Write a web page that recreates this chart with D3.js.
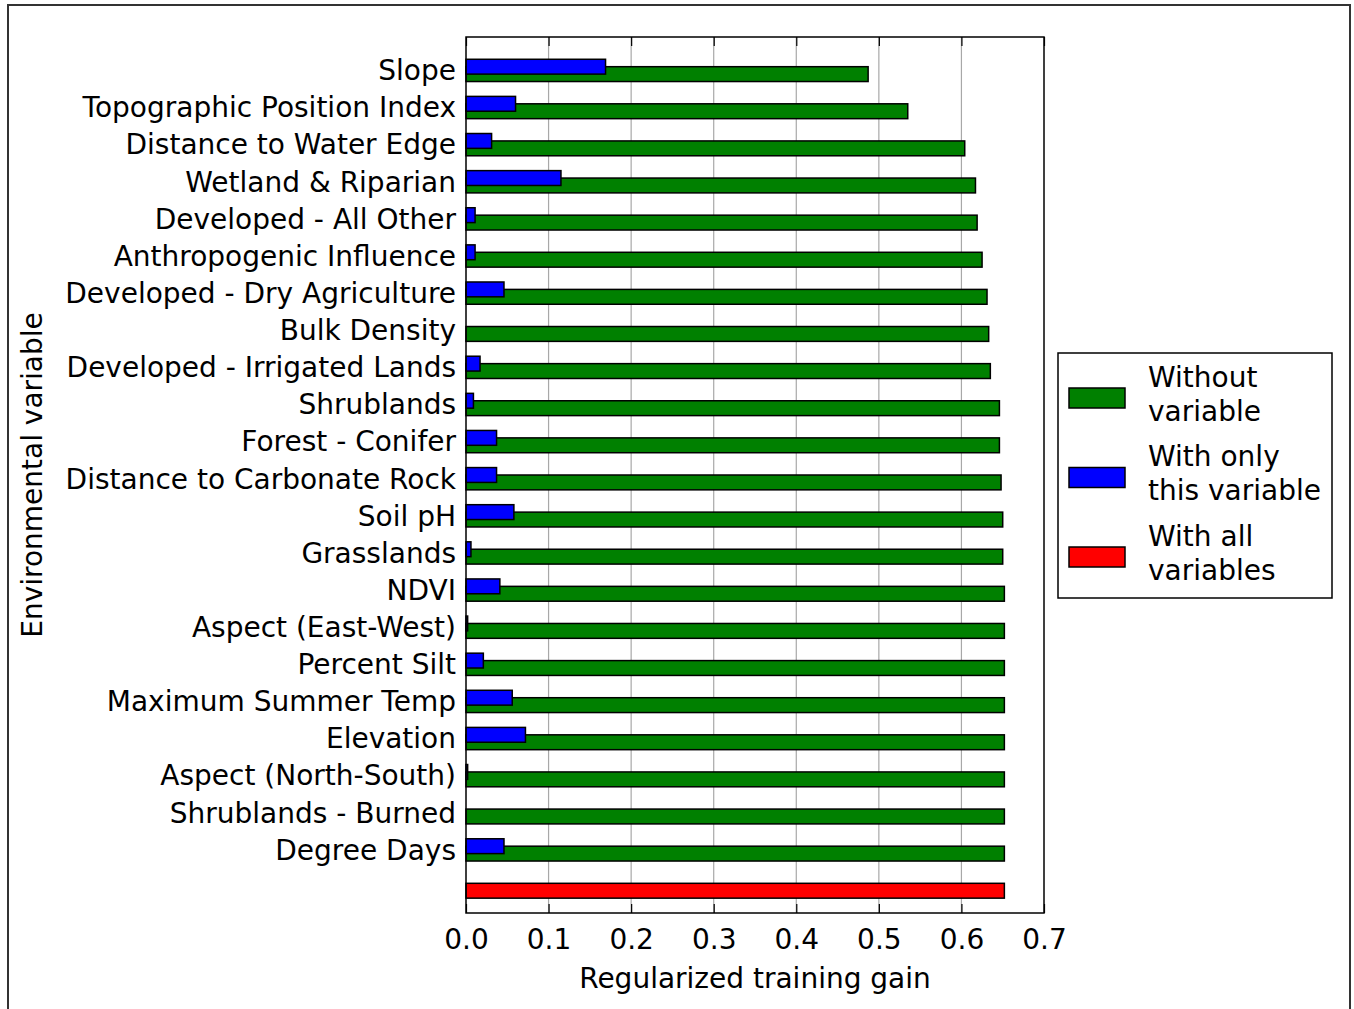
<!DOCTYPE html>
<html>
<head>
<meta charset="utf-8">
<script src="https://cdn.jsdelivr.net/npm/d3@7"></script>
<style>
  html, body { margin: 0; padding: 0; background: #fff; }
  svg { display: block; font-family: "DejaVu Sans", sans-serif; }
</style>
</head>
<body>
<div id="chart"></div>
<script>
const categories = [
  'Slope', 'Topographic Position Index', 'Distance to Water Edge', 'Wetland & Riparian',
  'Developed - All Other', 'Anthropogenic Influence', 'Developed - Dry Agriculture',
  'Bulk Density', 'Developed - Irrigated Lands', 'Shrublands', 'Forest - Conifer',
  'Distance to Carbonate Rock', 'Soil pH', 'Grasslands', 'NDVI', 'Aspect (East-West)',
  'Percent Silt', 'Maximum Summer Temp', 'Elevation', 'Aspect (North-South)',
  'Shrublands - Burned', 'Degree Days'
];

const withoutVar = [
  0.487, 0.535, 0.604, 0.617, 0.619, 0.625, 0.631, 0.633, 0.635, 0.646, 0.646,
  0.648, 0.650, 0.650, 0.652, 0.652, 0.652, 0.652, 0.652, 0.652, 0.652, 0.652
];

const onlyVar = [
  0.169, 0.060, 0.031, 0.115, 0.011, 0.011, 0.046, 0.0, 0.017, 0.009, 0.037,
  0.037, 0.058, 0.006, 0.041, 0.002, 0.021, 0.056, 0.072, 0.002, 0.0, 0.046
];

const allVars = 0.652;

const xTicks = [0.0, 0.1, 0.2, 0.3, 0.4, 0.5, 0.6, 0.7];

const legendItems = [
  { lines: ['Without', 'variable'], color: '#008000' },
  { lines: ['With only', 'this variable'], color: '#0000ff' },
  { lines: ['With all', 'variables'], color: '#ff0000' }
];

const W = 1354, H = 1009;
const plot = { left: 466, right: 1044, top: 37, bottom: 913 };
const BAR_H = 0.4;
const FS = 28;

const svg = d3.select('#chart').append('svg')
  .attr('width', W)
  .attr('height', H);

// outer frame
svg.append('rect')
  .attr('x', 8).attr('y', 5)
  .attr('width', 1342).attr('height', 1020)
  .attr('fill', 'none')
  .attr('stroke', '#333')
  .attr('stroke-width', 2);

const x = d3.scaleLinear().domain([0, 0.7]).range([plot.left, plot.right]);
const y = d3.scaleLinear().domain([-1.0, 22.6]).range([plot.top, plot.bottom]);

// grid
svg.append('g')
  .selectAll('line')
  .data(xTicks.slice(1, -1))
  .join('line')
  .attr('x1', d => x(d)).attr('x2', d => x(d))
  .attr('y1', plot.top).attr('y2', plot.bottom)
  .attr('stroke', '#a8a8a8')
  .attr('stroke-width', 1.2);

const rows = categories.map((c, i) => ({ name: c, i, without: withoutVar[i], only: onlyVar[i] }));

const bars = svg.append('g');

function barRect(sel, center, value, color) {
  sel.attr('x', x(0))
    .attr('y', y(center - BAR_H / 2))
    .attr('width', x(value) - x(0))
    .attr('height', y(BAR_H) - y(0))
    .attr('fill', color)
    .attr('stroke', '#000')
    .attr('stroke-width', 1.5);
}

// green: without variable
rows.forEach(r => {
  barRect(bars.append('rect'), r.i, r.without, '#008000');
});
// blue on top, shifted up
rows.forEach(r => {
  if (r.only > 0) barRect(bars.append('rect'), r.i - 0.2, r.only, '#0000ff');
});
// red: all variables
barRect(bars.append('rect'), categories.length, allVars, '#ff0000');

// axes frame
svg.append('rect')
  .attr('x', plot.left).attr('y', plot.top)
  .attr('width', plot.right - plot.left)
  .attr('height', plot.bottom - plot.top)
  .attr('fill', 'none')
  .attr('stroke', '#000')
  .attr('stroke-width', 1.5);

// x axis (inward ticks at bottom)
const xAxis = svg.append('g')
  .attr('transform', `translate(0,${plot.bottom})`)
  .call(d3.axisBottom(x).tickValues(xTicks).tickFormat(d3.format('.1f')).tickSize(-9).tickPadding(16));
xAxis.select('.domain').remove();
xAxis.selectAll('.tick line').attr('stroke', '#000').attr('stroke-width', 1.2);
xAxis.selectAll('.tick text')
  .attr('font-size', FS)
  .attr('font-family', '"DejaVu Sans", sans-serif')
  .attr('fill', '#000');

// top ticks
const topAxis = svg.append('g')
  .attr('transform', `translate(0,${plot.top})`)
  .call(d3.axisTop(x).tickValues(xTicks).tickSize(-9).tickFormat(''));
topAxis.select('.domain').remove();
topAxis.selectAll('.tick line').attr('stroke', '#000').attr('stroke-width', 1.2);

// category labels
svg.append('g')
  .selectAll('text')
  .data(rows)
  .join('text')
  .attr('x', plot.left - 10)
  .attr('y', d => y(d.i - 0.1))
  .attr('dy', '0.35em')
  .attr('text-anchor', 'end')
  .attr('font-size', FS)
  .attr('fill', '#000')
  .text(d => d.name);

// axis titles
svg.append('text')
  .attr('x', (plot.left + plot.right) / 2)
  .attr('y', 988)
  .attr('text-anchor', 'middle')
  .attr('font-size', FS)
  .text('Regularized training gain');

svg.append('text')
  .attr('transform', `translate(42,${(plot.top + plot.bottom) / 2}) rotate(-90)`)
  .attr('text-anchor', 'middle')
  .attr('font-size', FS)
  .text('Environmental variable');

// legend
const lg = svg.append('g');
lg.append('rect')
  .attr('x', 1058).attr('y', 353)
  .attr('width', 274).attr('height', 245)
  .attr('fill', '#fff')
  .attr('stroke', '#000')
  .attr('stroke-width', 1.5);

legendItems.forEach((item, k) => {
  const cy = 398 + k * 79.5;
  lg.append('rect')
    .attr('x', 1069).attr('y', cy - 10)
    .attr('width', 56).attr('height', 20)
    .attr('fill', item.color)
    .attr('stroke', '#000')
    .attr('stroke-width', 1.5);
  item.lines.forEach((t, j) => {
    lg.append('text')
      .attr('x', 1148)
      .attr('y', cy - 21 + j * 34)
      .attr('dy', '0.35em')
      .attr('font-size', FS)
      .text(t);
  });
});
</script>
</body>
</html>
